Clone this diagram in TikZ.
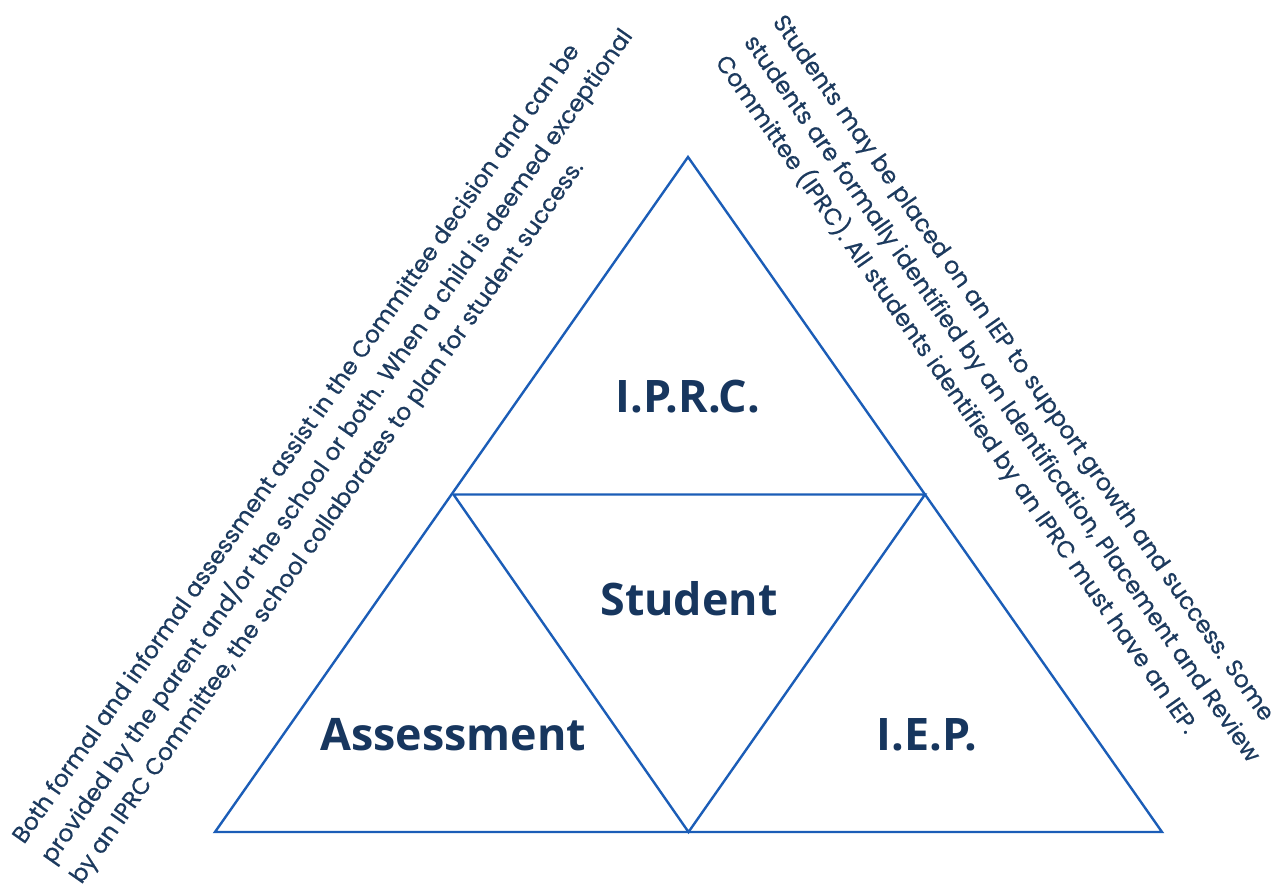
\documentclass[tikz,border=0pt]{standalone}
\usepackage{fontspec}
\setmainfont{Poppins}
\newfontfamily\notefont[FakeBold=0.6]{Poppins}
\newfontfamily\labelfont{Open Sans}
\definecolor{edgeblue}{HTML}{1B5DB7}
\definecolor{navy}{HTML}{17365E}
\definecolor{textnavy}{HTML}{1C3A5E}
\tikzset{
  edge/.style={draw=edgeblue, line width=2.4pt, line join=miter},
  biglabel/.style={text=navy, font=\labelfont\bfseries\fontsize{44.8}{50}\selectfont, anchor=base, inner sep=0pt},
  leftnote/.style={text=textnavy, font=\notefont\fontsize{23.4}{28}\selectfont, anchor=base west, inner sep=0pt, rotate=55},
  rightnote/.style={text=textnavy, font=\notefont\fontsize{23.6}{28}\selectfont, anchor=base west, inner sep=0pt, rotate=-55}
}
\begin{document}
\begin{tikzpicture}[x=1pt,y=-1pt]
\useasboundingbox (0,0) rectangle (1282,890);
\coordinate (A) at (688,157);
\coordinate (L) at (215,832);
\coordinate (R) at (1162,832);
\coordinate (ML) at (453.5,494.5);
\coordinate (MR) at (925,494.5);
\coordinate (MB) at (688.5,832);
\draw[edge] (A) -- (L) -- (R) -- cycle;
\draw[edge] (ML) -- (MR) -- (MB) -- cycle;
\node[biglabel] (iprc) at (688,412) {I.P.R.C.};
\node[biglabel] (student) at (689,615) {Student};
\node[biglabel] (assess) at (453,750) {Assessment};
\node[biglabel] (iep) at (927,750) {I.E.P.};
\node[leftnote] (l1) at (24,845) {Both formal and informal assessment assist in the Committee decision and can be};
\node[leftnote] (l2) at (52.7,865) {provided by the parent and/or the school or both. When a child is deemed exceptional};
\node[leftnote] (l3) at (81.4,885) {by an IPRC Committee, the school collaborates to plan for student success.};
\node[rightnote] (r1) at (772,22) {Students may be placed on an IEP to support growth and success. Some};
\node[rightnote] (r2) at (743.3,42.1) {students are formally identified by an Identification, Placement and Review};
\node[rightnote] (r3) at (714.6,62.2) {Committee (IPRC). All students identified by an IPRC must have an IEP.};
\end{tikzpicture}
\end{document}
